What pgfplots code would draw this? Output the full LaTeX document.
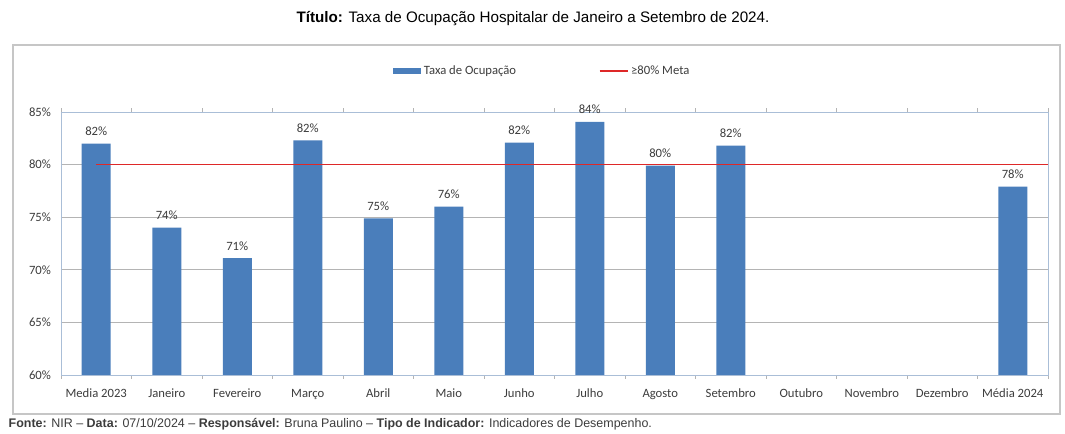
\documentclass[border=0pt]{standalone}
\usepackage{pgfplots}
\pgfplotsset{compat=1.18}
\usepackage{fontspec}
\setmainfont{Carlito}
\newfontfamily\arialfont{Liberation Sans}
\definecolor{barblue}{RGB}{74,126,187}
\definecolor{metared}{RGB}{222,40,40}
\definecolor{gridgray}{RGB}{180,180,180}
\definecolor{txtgray}{RGB}{60,60,60}
\begin{document}
\begin{tikzpicture}
\useasboundingbox (0,0) rectangle (798.75pt,-325.5pt);
% title
\node[font=\arialfont\fontsize{11.4pt}{13pt}\selectfont, anchor=center] at (399.75pt,-14pt) {\textbf{Título:} Taxa de Ocupação Hospitalar de Janeiro a Setembro de 2024.};
% outer frame
\draw[gray!45, line width=0.8pt] (9.75pt,-33.75pt) rectangle (795pt,-310.5pt);
\begin{axis}[
  at={(45.75pt,-281.25pt)}, anchor=south west,
  scale only axis, width=740.25pt, height=197.25pt,
  xmin=-0.5, xmax=13.5, ymin=60, ymax=85,
  ybar, bar width=21.75pt,
  xtick={0,...,13},
  xticklabels={Media 2023, Janeiro, Fevereiro, Março, Abril, Maio, Junho, Julho, Agosto, Setembro, Outubro, Novembro, Dezembro, Média 2024},
  minor xtick={-0.5,0.5,...,13.5},
  major tick length=0pt, minor tick length=3pt,
  tick align=outside,
  ytick={60,65,...,85},
  yticklabel={\pgfmathprintnumber{\tick}\%},
  ymajorgrids, grid style={gridgray, line width=0.5pt},
  axis line style={draw={rgb,255:red,170;green,190;blue,215}},
  tick style={gridgray},
  every tick label/.append style={font=\fontsize{9.5pt}{11pt}\selectfont, text=txtgray},
  /pgf/number format/assume math mode=true,
  xticklabel style={yshift=-6pt, text height=1.5ex, text depth=0.4ex},
  yticklabel style={xshift=-4pt},
  nodes near coords={\pgfmathprintnumber[fixed,precision=0]{\pgfplotspointmeta}\%},
  every node near coord/.append style={font=\fontsize{9.5pt}{11pt}\selectfont, text=txtgray, yshift=2.5pt},
  legend columns=2,
  legend style={at={(0.488,1.156)}, anchor=center, draw=none, fill=none,
    font=\fontsize{9.5pt}{11pt}\selectfont, text=txtgray,
    /tikz/every even column/.append style={column sep=60pt}},
  clip=false,
]
\addplot[fill=barblue, draw=none,
  legend image code/.code={\fill[barblue] (0pt,-2.5pt) rectangle (21pt,2.5pt);}]
  coordinates {(0,82.0) (1,74.0) (2,71.1) (3,82.3) (4,74.9) (5,76.0) (6,82.1) (7,84.05) (8,79.9) (9,81.8) (13,77.9)};
\addlegendentry{Taxa de Ocupação}
\addplot[sharp plot, metared, line width=1.2pt, nodes near coords={},
  legend image code/.code={\draw[metared, line width=1.2pt] (0pt,0pt) -- (21pt,0pt);}]
  coordinates {(0,80) (13.5,80)};
\addlegendentry{≥80\% Meta}
\end{axis}
% footer
\node[font=\arialfont\fontsize{9.35pt}{11pt}\selectfont, anchor=west, text=txtgray] at (3pt,-318pt) {\textbf{Fonte:} NIR – \textbf{Data:} 07/10/2024 – \textbf{Responsável:} Bruna Paulino – \textbf{Tipo de Indicador:} Indicadores de Desempenho.};
\end{tikzpicture}
\end{document}
